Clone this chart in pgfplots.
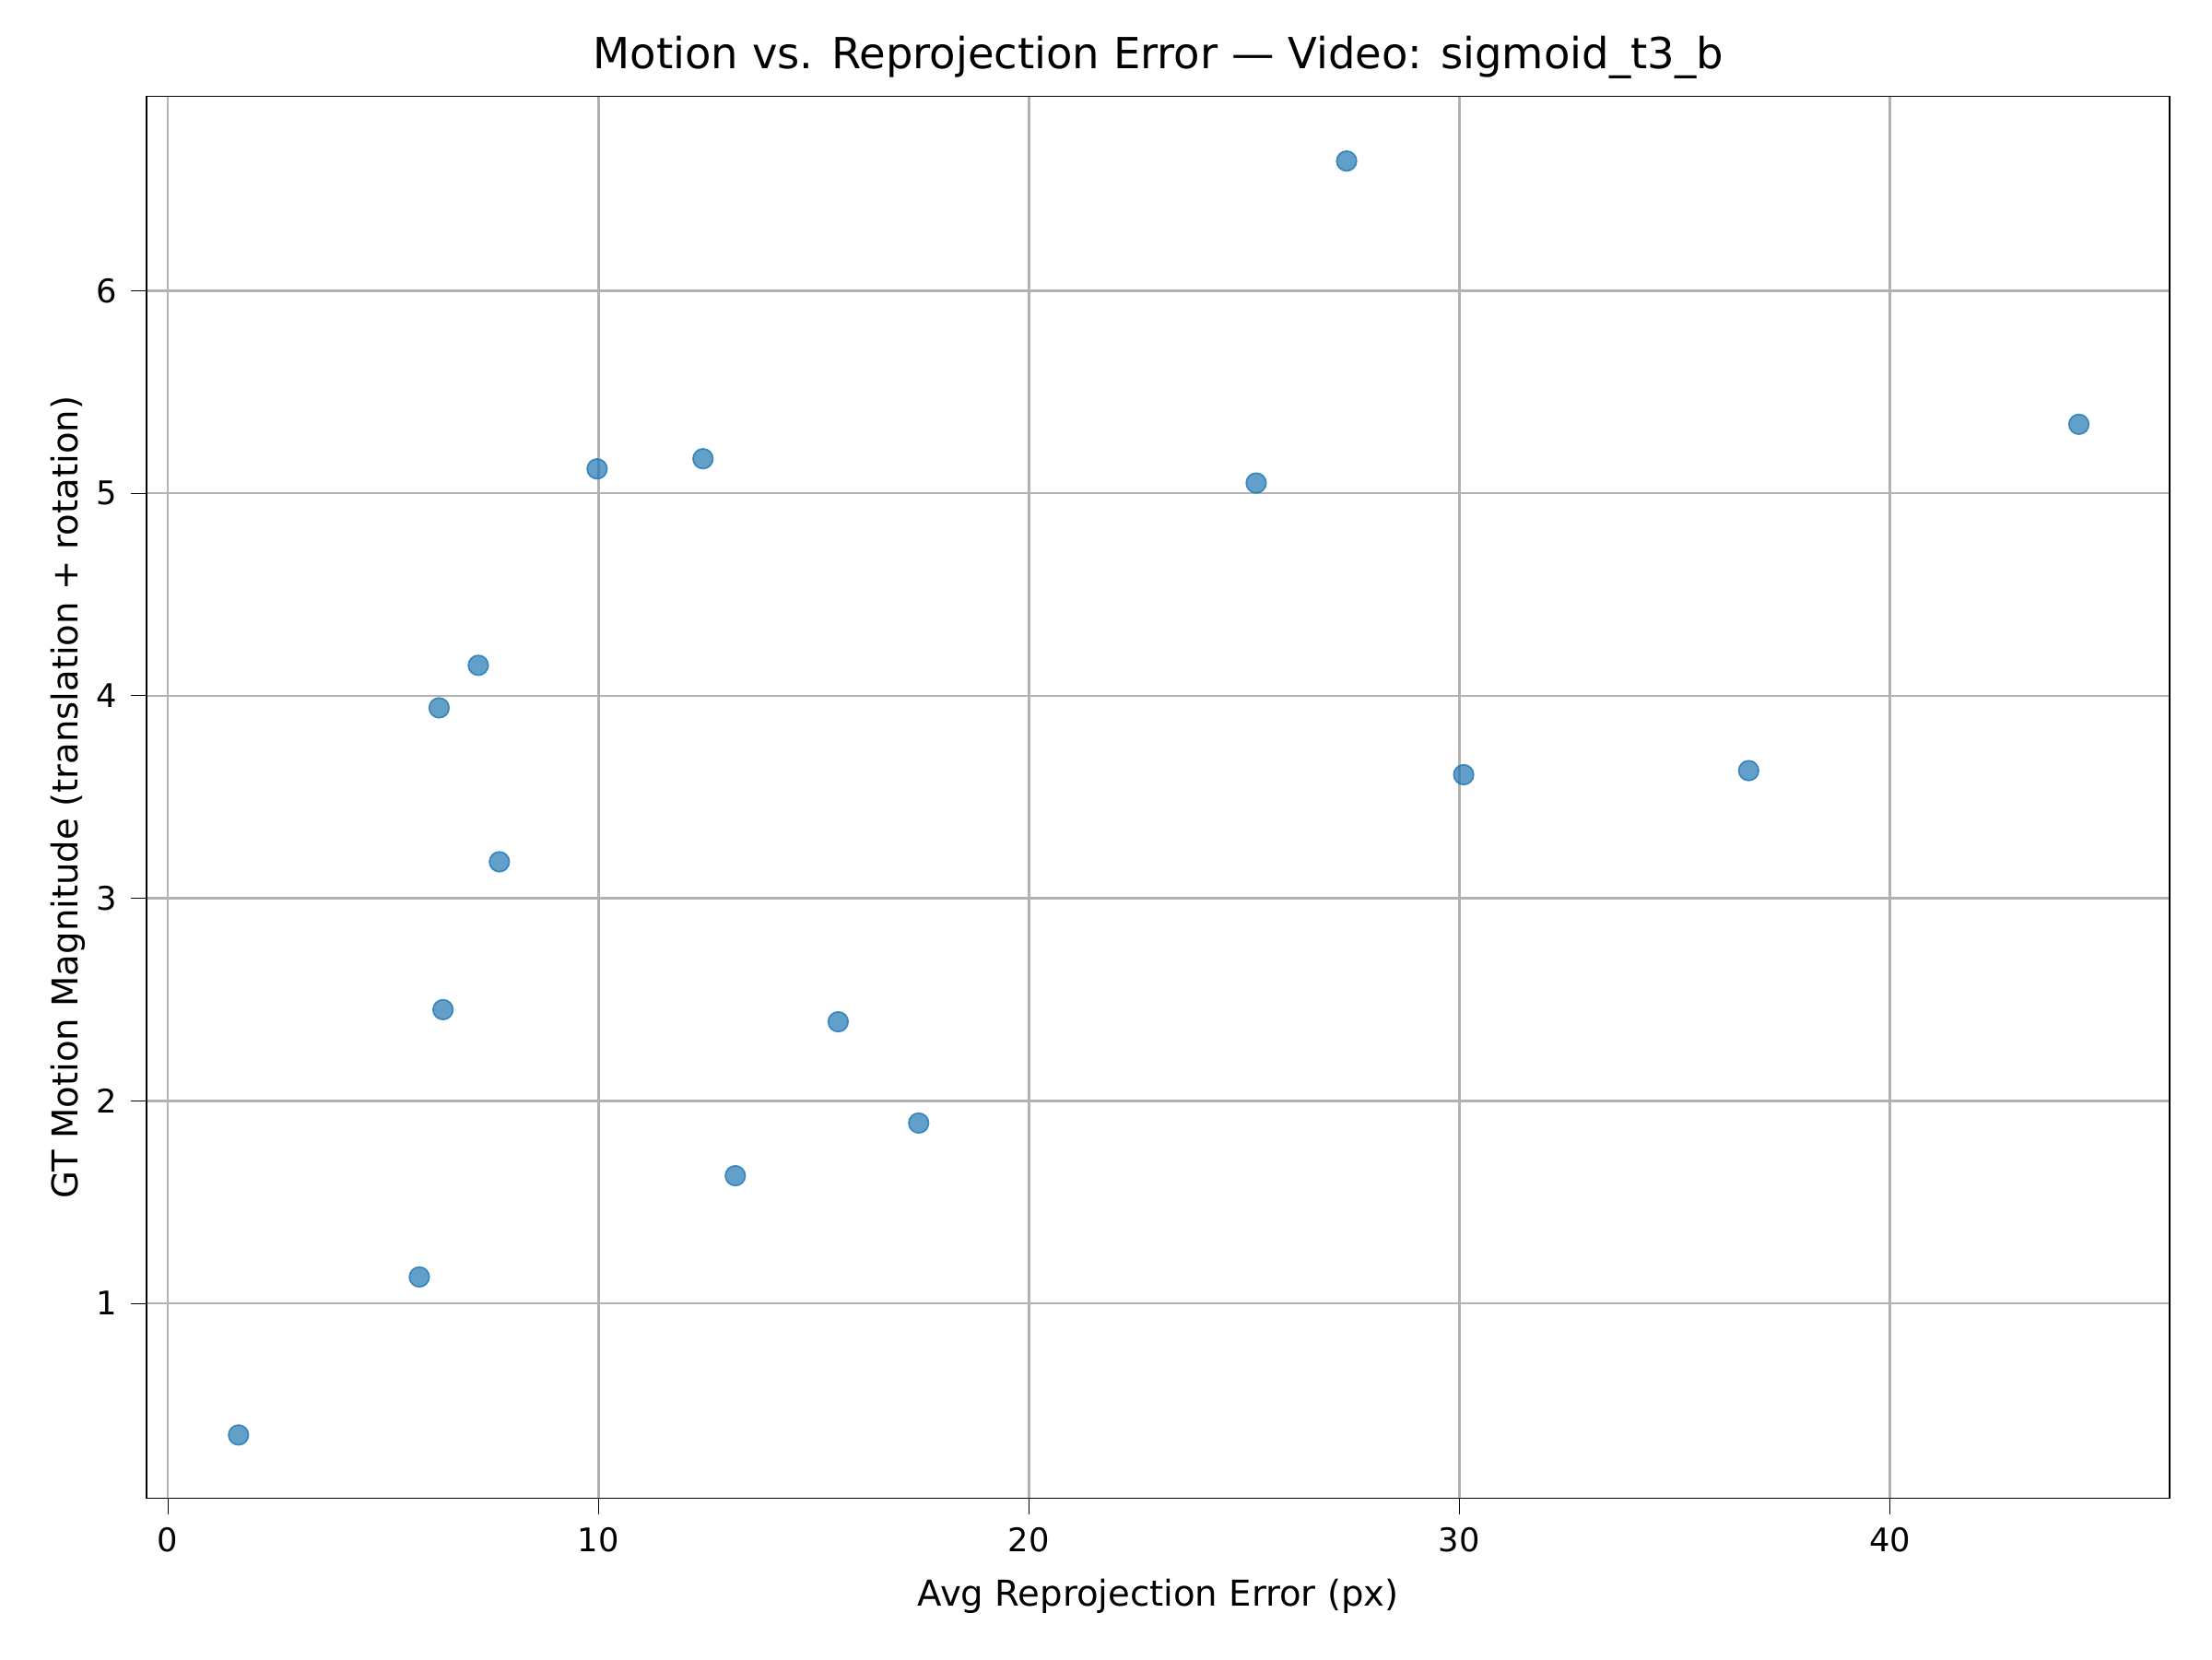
\documentclass[border=0pt]{standalone}
\usepackage{pgfplots}
\pgfplotsset{compat=1.18}
\usepackage{fontspec}
\setmainfont{DejaVu Sans}
\definecolor{mblue}{HTML}{1F77B4}
\begin{document}
\begin{tikzpicture}
\useasboundingbox (-0.531in,-0.582in) rectangle (7.469in,5.418in);
\begin{axis}[at={(0,0)},anchor=south west,scale only axis,
width=7.316in,height=5.07in,
xmin=-0.49,xmax=46.5,ymin=0.038,ymax=6.96,
xtick={0,10,20,30,40},ytick={1,2,3,4,5,6},
xtick pos=left,ytick pos=left,
grid=major,grid style={gray!60,line width=0.6pt},
axis line style={black},
tick style={black},tick align=outside,
/pgf/number format/assume math mode=true,
ticklabel style={font=\fontsize{8.5}{10}\selectfont},
xlabel={Avg Reprojection Error (px)},
ylabel={GT Motion Magnitude (translation + rotation)},
label style={font=\fontsize{9.3}{11}\selectfont},
ylabel style={yshift=-4pt},
title={Motion vs. Reprojection Error — Video: sigmoid\_t3\_b},
title style={font=\fontsize{11.2}{13}\selectfont,yshift=-5pt},
]
\addplot[only marks,mark=*,mark size=2.6pt,mark options={draw=mblue,fill=mblue,fill opacity=0.7,draw opacity=0.8}] coordinates {
(1.64,0.35)(5.84,1.13)(6.30,3.94)(6.39,2.45)(7.21,4.15)(7.70,3.18)(9.97,5.12)(12.43,5.17)(13.18,1.63)(15.57,2.39)(17.44,1.89)(25.28,5.05)(27.38,6.64)(30.10,3.61)(36.72,3.63)(44.39,5.34)};
\end{axis}
\end{tikzpicture}
\end{document}
